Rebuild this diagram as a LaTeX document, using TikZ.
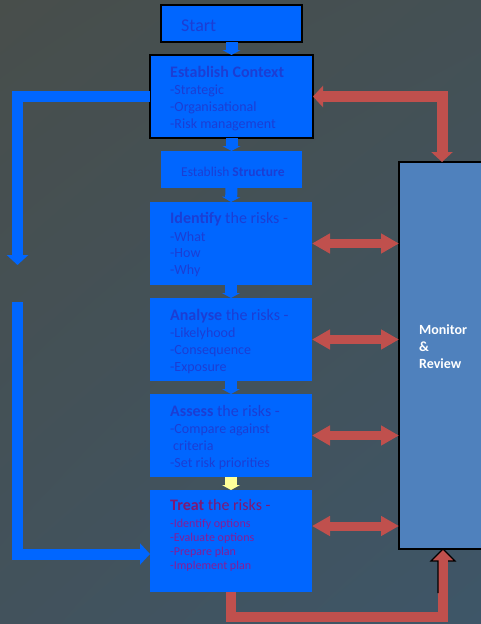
\documentclass[tikz,border=0pt]{standalone}
\usepackage{fontspec}
\setmainfont{Carlito}
\usetikzlibrary{arrows.meta,calc,shadings}
\definecolor{boxblue}{RGB}{0,102,255}
\definecolor{txtblue}{RGB}{28,62,212}
\definecolor{monblue}{RGB}{79,129,189}
\definecolor{redc}{RGB}{192,80,77}
\definecolor{yellowc}{RGB}{255,255,153}
\definecolor{treatt}{RGB}{128,24,115}
\definecolor{treatc}{RGB}{135,28,150}
\definecolor{bgtl}{RGB}{72,78,75}
\definecolor{bgtr}{RGB}{68,80,84}
\definecolor{bgbl}{RGB}{66,82,92}
\definecolor{bgbr}{RGB}{62,86,104}
\tikzset{
  box/.style={fill=boxblue, draw=none, anchor=north west, inner sep=0pt, outer sep=0pt},
  bbox/.style={box, draw=black, line width=2pt},
  ln/.style={anchor=base west, inner sep=0pt, text=txtblue, font=\fontsize{14}{17}\selectfont},
  ttl/.style={ln, font=\fontsize{16}{19}\selectfont},
  tln/.style={ln, text=treatc, font=\fontsize{12}{14}\selectfont},
  mln/.style={ln, text=white, font=\fontsize{14}{17}\selectfont\bfseries},
  smallarr/.style={draw=boxblue, line width=12pt, -{Triangle[width=18pt,length=5pt]}},
  redarr/.style={draw=redc, line width=9pt, {Triangle[width=19pt,length=18pt]}-{Triangle[width=19pt,length=18pt]}},
  redbent/.style={draw=redc, line width=11pt, line join=miter, {Triangle[width=21pt,length=10pt]}-{Triangle[width=21pt,length=10pt]}},
  bluebent/.style={draw=boxblue, line width=11pt, line join=miter, -{Triangle[width=21pt,length=10pt]}},
}
\begin{document}
\begin{tikzpicture}[x=1pt,y=-1pt]
\useasboundingbox (0,0) rectangle (481,624);
\shade[upper left=bgtl, upper right=bgtr, lower left=bgbl, lower right=bgbr] (0,0) rectangle (481,624);

% boxes
\node[bbox, minimum width=141, minimum height=37] (start) at (161,5) {};
\node[bbox, minimum width=163, minimum height=83] (ctx) at (150,55) {};
\node[box, minimum width=141, minimum height=37] (struct) at (161,151) {};
\node[box, minimum width=162, minimum height=83] (ident) at (150,202) {};
\node[box, minimum width=162, minimum height=83] (anal) at (150,298) {};
\node[box, minimum width=162, minimum height=83] (assess) at (150,394) {};
\node[box, minimum width=162, minimum height=102] (treat) at (150,490) {};
\node[box, fill=monblue, draw=black, line width=1.5pt, minimum width=96, minimum height=387] (mon) at (399,162) {};

% texts
\node[ln, font=\fontsize{18}{21}\selectfont] (tstart) at (181,31) {Start};
\node[ttl] (c0) at (170,77) {\textbf{Establish Context}};
\node[ln] (c1) at (170,94) {-Strategic};
\node[ln] (c2) at (170,111) {-Organisational};
\node[ln] (c3) at (170,128) {-Risk management};
\node[ln, font=\fontsize{13.5}{16}\selectfont] (s0) at (181,176) {Establish \textbf{Structure}};
\node[ttl] (i0) at (170,223) {\textbf{Identify} the risks -};
\node[ln] (i1) at (170,241) {-What};
\node[ln] (i2) at (170,257) {-How};
\node[ln] (i3) at (170,274) {-Why};
\node[ttl] (a0) at (170,320) {\textbf{Analyse} the risks -};
\node[ln] (a1) at (170,337) {-Likelyhood};
\node[ln] (a2) at (170,354) {-Consequence};
\node[ln] (a3) at (170,371) {-Exposure};
\node[ttl] (e0) at (170,416) {\textbf{Assess} the risks -};
\node[ln] (e1) at (170,433) {-Compare against};
\node[ln] (e2) at (173,450) {criteria};
\node[ln] (e3) at (170,467) {-Set risk priorities};
\node[ttl, text=treatt] (t0) at (170,510) {\textbf{Treat} the risks -};
\node[tln] (t1) at (170,527) {-Identify options};
\node[tln] (t2) at (170,541) {-Evaluate options};
\node[tln] (t3) at (170,555.5) {-Prepare plan};
\node[tln] (t4) at (170,569.5) {-Implement plan};
\node[mln] (m0) at (419,334) {Monitor};
\node[mln] (m1) at (419,351) {\&};
\node[mln] (m2) at (419,368) {Review};

% vertical flow arrows
\draw[smallarr] (start.south) -- (ctx.north);
\draw[smallarr] (ctx.south) -- (struct.north);
\draw[smallarr] (struct.south) -- (ident.north);
\draw[smallarr] (ident.south) -- (anal.north);
\draw[smallarr] (anal.south) -- (assess.north);
\draw[smallarr, draw=yellowc] (assess.south) -- (treat.north);

% red double arrows
\draw[redarr] (ident.east) -- (ident.east -| mon.west);
\draw[redarr] (anal.east) -- (anal.east -| mon.west);
\draw[redarr] (assess.east) -- (assess.east -| mon.west);
\coordinate (treatr) at ($(treat.north east)+(0,36)$);
\draw[redarr] (treatr) -- (treatr -| mon.west);

% top red bent arrow
\coordinate (montop) at ($(mon.north west)+(43,0)$);
\draw[redbent] (ctx.east) -| (montop);

% bottom red arrow
\coordinate (monbot) at ($(mon.south west)+(44,0)$);
\coordinate (botturn) at ($(monbot)+(0,68)$);
\draw[draw=redc, line width=10pt, line join=miter, -{Triangle[width=24pt,length=12pt]}] (treat.south) |- (botturn) -- (monbot);
\draw[black, line width=1.2pt, line join=miter] ($(monbot)+(-5,44)$) -- ($(monbot)+(-5,12)$) -- ($(monbot)+(-12,12)$) -- (monbot) -- ($(monbot)+(12,12)$) -- ($(monbot)+(5,12)$);

% blue left arrows
\coordinate (ldown) at (17.5,265);
\draw[bluebent] (ctx.west) -| (ldown);
\coordinate (lup) at (17.5,302);
\coordinate (lcorner) at (17.5,554);
\draw[bluebent] (lup) -- (lcorner) -- (lcorner -| treat.west);
\end{tikzpicture}
\end{document}
